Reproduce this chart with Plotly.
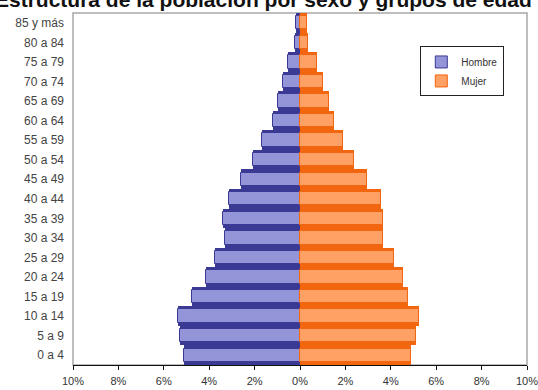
import plotly.graph_objects as go

# Age groups, youngest first (bottom of the pyramid)
grupos = ["0 a 4", "5 a 9", "10 a 14", "15 a 19", "20 a 24", "25 a 29",
          "30 a 34", "35 a 39", "40 a 44", "45 a 49", "50 a 54", "55 a 59",
          "60 a 64", "65 a 69", "70 a 74", "75 a 79", "80 a 84", "85 y más"]

# Share of total population (%)
hombre = [5.1, 5.3, 5.38, 4.74, 4.15, 3.73, 3.3, 3.41, 3.14, 2.62,
          2.07, 1.66, 1.19, 0.96, 0.77, 0.52, 0.22, 0.18]
mujer = [4.89, 5.11, 5.26, 4.77, 4.52, 4.15, 3.66, 3.67, 3.59, 2.96,
         2.37, 1.9, 1.48, 1.26, 1.01, 0.74, 0.37, 0.3]

xticks = [-10, -8, -6, -4, -2, 0, 2, 4, 6, 8, 10]

azul_osc, azul_cla = "#3a3a94", "#9494d8"
nar_osc, nar_cla = "#f2660f", "#ffa064"

fig = go.Figure()

# Dark full-height band behind each bar (gives the shaded edge look)
for vals, sign, osc in [(hombre, -1, azul_osc), (mujer, 1, nar_osc)]:
    fig.add_trace(go.Bar(
        y=grupos, x=[sign * v for v in vals], orientation="h", width=1.0,
        marker=dict(color=osc, line=dict(width=0)), showlegend=False,
        hoverinfo="skip"))

# Lighter core of each bar
for name, vals, sign, osc, cla in [("Hombre", hombre, -1, azul_osc, azul_cla),
                                   ("Mujer", mujer, 1, nar_osc, nar_cla)]:
    fig.add_trace(go.Bar(
        name=name, y=grupos, x=[sign * v for v in vals], orientation="h",
        width=0.68, marker=dict(color=cla, line=dict(color=osc, width=1))))

fig.update_layout(
    width=538, height=390,
    margin=dict(l=73, r=11, t=13, b=25, autoexpand=False),
    paper_bgcolor="white", plot_bgcolor="white",
    barmode="overlay", bargap=0,
    font=dict(family="Liberation Sans, Arial", size=11, color="#333"),
    showlegend=True,
    legend=dict(x=0.765, y=0.905, xanchor="left", yanchor="top",
                bgcolor="white", bordercolor="#222", borderwidth=1,
                font=dict(size=10, color="#333"), traceorder="normal",
                itemwidth=30, tracegroupgap=0),
    xaxis=dict(range=[-10, 10], tickvals=xticks,
               ticktext=[f"{abs(t)}%" for t in xticks],
               showgrid=False, zeroline=False, showline=True,
               linecolor="#111", linewidth=1, ticks="outside",
               ticklen=4, tickcolor="#111", tickfont=dict(size=11),
               ticklabelstandoff=2, ticklabeloverflow="allow",
               automargin=False),
    yaxis=dict(categoryorder="array", categoryarray=grupos,
               showgrid=False, zeroline=False, showline=False,
               ticks="", ticklabelstandoff=8, automargin=False,
               tickfont=dict(size=12, color="#444")),
    shapes=[dict(type="rect", xref="paper", yref="paper", x0=0, x1=1,
                 y0=0, y1=1, line=dict(color="#a8a8a8", width=1.5),
                 layer="below")],
    annotations=[dict(text="<b>Estructura de la población por sexo y grupos de edad</b>",
                      xref="paper", yref="paper", x=0.42, y=1.0,
                      xanchor="center", yanchor="bottom", showarrow=False,
                      font=dict(size=21, color="#111"))],
)

fig.write_html("out.html")
